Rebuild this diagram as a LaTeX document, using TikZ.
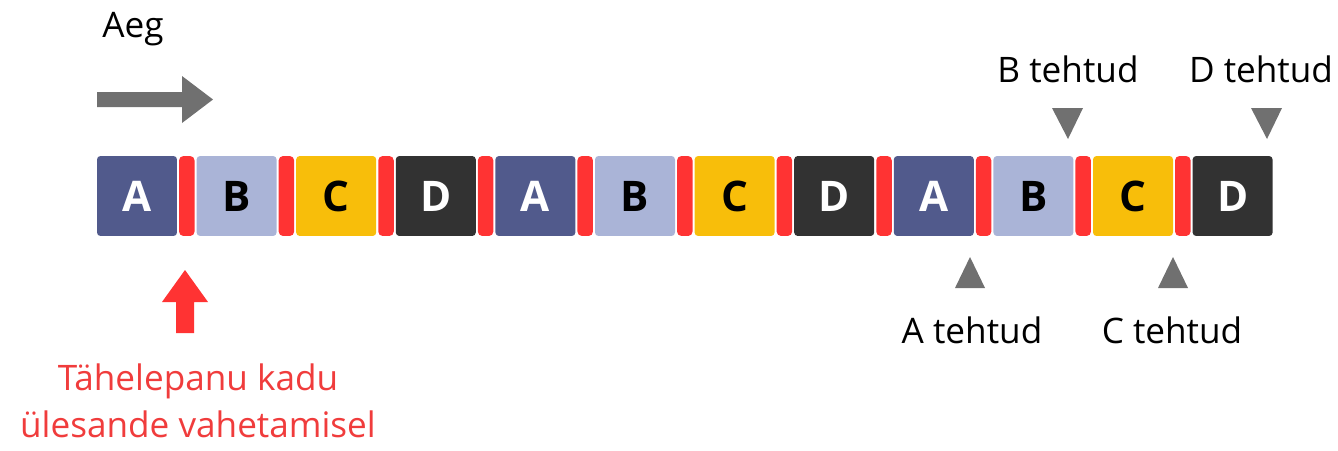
\documentclass[tikz,border=0pt]{standalone}
\usepackage{fontspec}
\setmainfont{Open Sans}
\usepackage{xcolor}
\definecolor{cA}{RGB}{81,90,140}
\definecolor{cB}{RGB}{170,180,215}
\definecolor{cC}{RGB}{248,190,10}
\definecolor{cD}{RGB}{50,50,50}
\definecolor{switchRed}{RGB}{255,51,51}
\definecolor{markGray}{RGB}{112,112,112}
\definecolor{noteRed}{RGB}{240,60,60}
\tikzset{
    task/.style={rectangle,rounded corners=2pt,minimum width=1.6cm,minimum height=1.6cm,
        inner sep=0pt,font=\fontsize{24}{28}\selectfont\bfseries},
    taskA/.style={task,fill=cA,text=white},
    taskB/.style={task,fill=cB,text=black},
    taskC/.style={task,fill=cC,text=black},
    taskD/.style={task,fill=cD,text=white},
    swbar/.style={rectangle,rounded corners=2.5pt,fill=switchRed,minimum width=0.31cm,
        minimum height=1.6cm,inner sep=0pt},
    lbl/.style={font=\fontsize{20}{24}\selectfont,anchor=base,inner sep=0pt},
    donemark/.style={fill=markGray}
}
\begin{document}
\begin{tikzpicture}[x=0.02cm,y=-0.02cm]
    \useasboundingbox (0,0) rectangle (1338,450);
    % time axis
    \node[lbl] (aeg) at (133,37) {Aeg};
    \fill[markGray] (97,92) -- (182,92) -- (182,76) -- (213,99.5) -- (182,123) -- (182,107) -- (97,107) -- cycle;
    % task slices
    \node[taskA] (a1) at (137.0,196)  {A};
    \node[taskB] (b1) at (236.6,196)  {B};
    \node[taskC] (c1) at (336.2,196)  {C};
    \node[taskD] (d1) at (435.8,196)  {D};
    \node[taskA] (a2) at (535.4,196)  {A};
    \node[taskB] (b2) at (635.0,196)  {B};
    \node[taskC] (c2) at (734.6,196)  {C};
    \node[taskD] (d2) at (834.2,196)  {D};
    \node[taskA] (a3) at (933.8,196)  {A};
    \node[taskB] (b3) at (1033.4,196) {B};
    \node[taskC] (c3) at (1133.0,196) {C};
    \node[taskD] (d3) at (1232.6,196) {D};
    % context switches
    \node[swbar] (s1)  at (186.8,196)  {};
    \node[swbar] (s2)  at (286.4,196)  {};
    \node[swbar] (s3)  at (386.0,196)  {};
    \node[swbar] (s4)  at (485.6,196)  {};
    \node[swbar] (s5)  at (585.2,196)  {};
    \node[swbar] (s6)  at (684.8,196)  {};
    \node[swbar] (s7)  at (784.4,196)  {};
    \node[swbar] (s8)  at (884.0,196)  {};
    \node[swbar] (s9)  at (983.6,196)  {};
    \node[swbar] (s10) at (1083.2,196) {};
    \node[swbar] (s11) at (1182.8,196) {};
    % switch cost note
    \fill[switchRed] (185,270) -- (208,302) -- (194,302) -- (194,333) -- (176,333) -- (176,302) -- (162,302) -- cycle;
    \node[lbl,text=noteRed,align=center,font=\fontsize{20}{26.6}\selectfont] (note) at (198,437)
        {Tähelepanu kadu\\ülesande vahetamisel};
    % finished marks
    \fill[donemark] (955,288) -- (970,257) -- (985,288) -- cycle;
    \fill[donemark] (1158,288) -- (1173,257) -- (1188,288) -- cycle;
    \fill[donemark] (1052,108) -- (1068,139) -- (1083,108) -- cycle;
    \fill[donemark] (1251,108) -- (1267,139) -- (1282,108) -- cycle;
    \node[lbl] (adone) at (972,343)  {A tehtud};
    \node[lbl] (cdone) at (1172,343) {C tehtud};
    \node[lbl] (bdone) at (1068,82)  {B tehtud};
    \node[lbl] (ddone) at (1261,82)  {D tehtud};
\end{tikzpicture}
\end{document}
